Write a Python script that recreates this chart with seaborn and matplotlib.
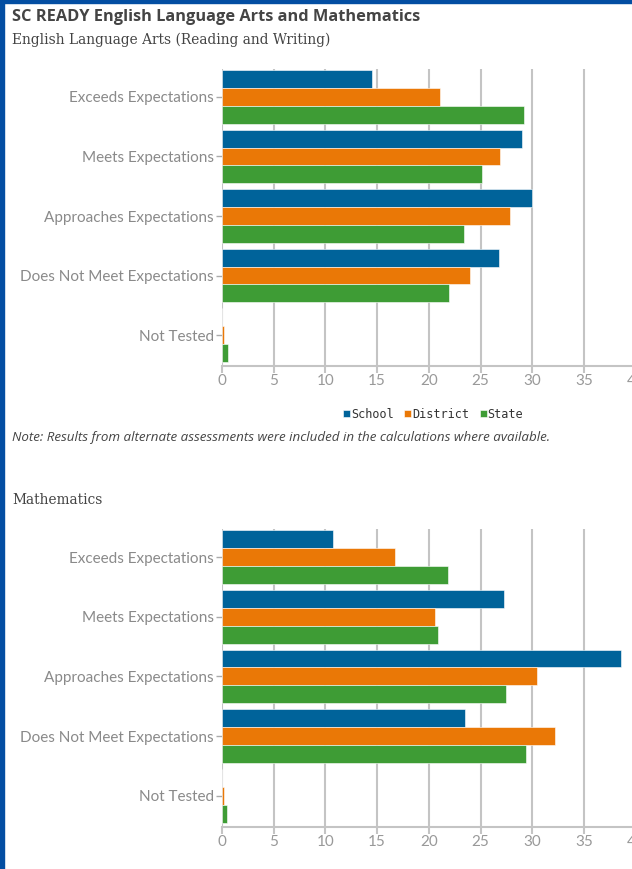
import matplotlib
matplotlib.use("Agg")
import matplotlib.pyplot as plt
import matplotlib.patches as mpatches
import seaborn as sns
import pandas as pd

levels = ["Exceeds Expectations", "Meets Expectations", "Approaches Expectations",
          "Does Not Meet Expectations", "Not Tested"]
groups = ["School", "District", "State"]

ela_school = [14.5, 29.0, 30.0, 26.8, 0.0]
ela_district = [21.1, 26.9, 27.9, 24.0, 0.2]
ela_state = [29.2, 25.1, 23.4, 22.0, 0.6]

math_school = [10.7, 27.3, 38.6, 23.5, 0.0]
math_district = [16.7, 20.6, 30.5, 32.2, 0.2]
math_state = [21.9, 20.9, 27.5, 29.4, 0.5]

colors = ["#00639a", "#ea7806", "#3e9c35"]
x_ticks = [0, 5, 10, 15, 20, 25, 30, 35, 40]


def long_df(school, district, state):
    rows = []
    for g, vals in zip(groups, [school, district, state]):
        for lv, v in zip(levels, vals):
            rows.append({"Level": lv, "Group": g, "Percent": v})
    return pd.DataFrame(rows)


sns.set_style("white")

fig = plt.figure(figsize=(6.32, 8.69), dpi=100)
fig.patch.set_facecolor("white")

# blue frame on the left and top edges
fig.add_artist(mpatches.Rectangle((0, 0), 4 / 632, 1, transform=fig.transFigure,
                                  color="#034ea2", zorder=10))
fig.add_artist(mpatches.Rectangle((0, 1 - 3 / 869), 1, 3 / 869, transform=fig.transFigure,
                                  color="#034ea2", zorder=10))

ax1 = fig.add_axes([222 / 632, 1 - 366 / 869, 413.6 / 632, 297 / 869])
ax2 = fig.add_axes([222 / 632, 1 - 826.7 / 869, 413.6 / 632, 297.7 / 869])


def draw(ax, df):
    sns.barplot(data=df, y="Level", x="Percent", hue="Group", order=levels,
                hue_order=groups, palette=colors, saturation=1, orient="h", width=0.9,
                edgecolor="white", linewidth=0.4, ax=ax, legend=(ax is ax1))
    ax.set_xlim(0, 40)
    ax.set_ylim(4.52, -0.47)
    ax.set_xticks(x_ticks)
    ax.set_xlabel("")
    ax.set_ylabel("")
    ax.grid(axis="x", color="#c4c4c4", linewidth=1.5)
    ax.grid(axis="y", visible=False)
    ax.set_axisbelow(True)
    for s in ["top", "right", "left"]:
        ax.spines[s].set_visible(False)
    ax.spines["bottom"].set_color("#c4c4c4")
    ax.spines["bottom"].set_linewidth(1.5)
    ax.tick_params(axis="x", bottom=True, length=5, width=1.5, color="#c4c4c4",
                   labelcolor="#999999", labelsize=11, pad=1)
    ax.tick_params(axis="y", left=True, length=4, width=1, color="#aaaaaa",
                   labelcolor="#8a8a8a", labelsize=11, pad=2)
    for lab in ax.get_xticklabels() + ax.get_yticklabels():
        lab.set_fontfamily("Lato")


draw(ax1, long_df(ela_school, ela_district, ela_state))
draw(ax2, long_df(math_school, math_district, math_state))

handles, labels = ax1.get_legend_handles_labels()
ax1.legend(handles, labels, loc="center", bbox_to_anchor=(433 / 632, 1 - 414 / 869),
           bbox_transform=fig.transFigure, ncol=3, frameon=False,
           prop={"family": "DejaVu Sans Mono", "size": 8.5}, handlelength=0.6,
           handleheight=0.6, handletextpad=0.05, columnspacing=0.9, labelcolor="#333333")

fig.text(12 / 632, 1 - 17 / 869, "SC READY English Language Arts and Mathematics",
         fontfamily="Open Sans", fontweight="bold", fontsize=11.8, color="#444444", va="center")
fig.text(12 / 632, 1 - 40 / 869, "English Language Arts (Reading and Writing)",
         fontfamily="DejaVu Serif", fontsize=9.9, color="#444444", va="center")
fig.text(12 / 632, 1 - 437 / 869,
         "Note: Results from alternate assessments were included in the calculations where available.",
         fontfamily="Open Sans", fontstyle="italic", fontsize=9.6, color="#444444", va="center")
fig.text(12 / 632, 1 - 500 / 869, "Mathematics",
         fontfamily="DejaVu Serif", fontsize=9.9, color="#444444", va="center")

fig.savefig("out.png", dpi=100)
